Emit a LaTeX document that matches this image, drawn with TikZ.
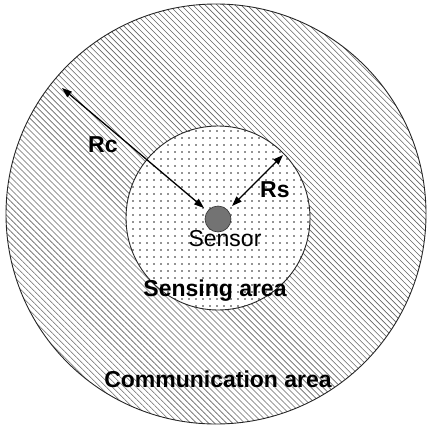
\documentclass[tikz,border=0pt]{standalone}
\usepackage{fontspec}
\setmainfont{Liberation Sans}
\usetikzlibrary{patterns,patterns.meta,arrows.meta}
\begin{document}
\begin{tikzpicture}[x=1pt,y=-1pt,
  lbl/.style={font=\fontsize{23}{27}\selectfont\bfseries, inner sep=0pt, anchor=base},
  plainlbl/.style={font=\fontsize{23}{27}\selectfont, inner sep=0pt, anchor=base},
  radiusarrow/.style={line width=1.3pt, {Triangle[length=10pt,width=7pt]}-{Triangle[length=10pt,width=7pt]}},
  ring/.style={draw=black!85, line width=0.9pt},
]
\useasboundingbox (0,0) rectangle (427,425);
\fill[white] (0,0) rectangle (427,425);
% communication area
\path[ring, pattern={Lines[angle=-45,distance=4.25pt,line width=0.6pt]}, pattern color=black!60]
  (216,214) circle[radius=210];
% sensing area
\path[ring, fill=white, postaction={pattern={Dots[distance=7pt,radius=0.9pt]}, pattern color=black!85}]
  (218,218) circle[radius=92];
% sensor
\node[circle, draw=black!80, line width=0.6pt, fill=black!55, minimum size=26pt, inner sep=0pt] (sensor) at (218,219) {};
% radius arrows
\coordinate (rcout) at (62,88);
\coordinate (rcin) at (204,208);
\coordinate (rsout) at (283,155);
\coordinate (rsin) at (232,206);
\draw[radiusarrow] (rcout) -- (rcin);
\draw[radiusarrow] (rsout) -- (rsin);
% labels
\node[lbl, anchor=base west] (rc) at (88,152) {Rc};
\node[lbl, anchor=base west] (rs) at (260,197) {Rs};
\node[plainlbl] (sensorlbl) at (225,246) {Sensor};
\node[lbl] (sensing) at (215,296) {Sensing area};
\node[lbl] (comm) at (218,387) {Communication area};
\end{tikzpicture}
\end{document}
